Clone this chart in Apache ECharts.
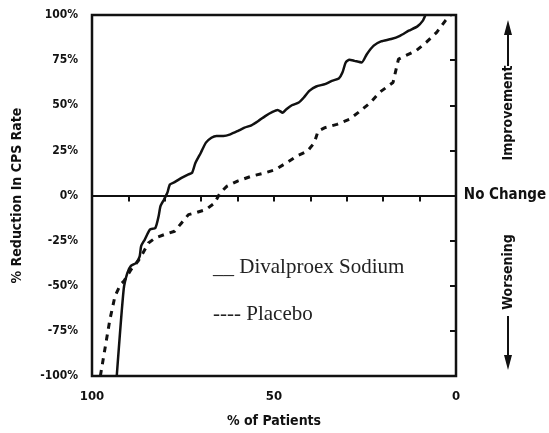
<!DOCTYPE html>
<html>
<head>
<meta charset="utf-8">
<script src="https://cdn.jsdelivr.net/npm/echarts@6/dist/echarts.min.js"></script>
<style>
  html, body { margin: 0; padding: 0; background: #fff; }
  #main { width: 549px; height: 433px; }
</style>
</head>
<body>
<div id="main"></div>
<script>
// % of patients (x) and % reduction in CPS rate (y)
const divalproexX = [93.2, 91.3, 90.3, 89.3, 87.9, 86.9, 86.5, 85.5, 84.1, 82.6, 81.7, 81.2, 80.2, 79.3, 78.6, 77.3, 75.4, 73.5, 72.5, 71.6, 70.1, 68.7, 67.2, 65.8, 63.9, 62.0, 60.0, 58.1, 56.2, 54.3, 52.4, 50.4, 49.0, 47.6, 46.6, 45.1, 43.2, 41.8, 40.3, 38.4, 36.0, 34.1, 32.2, 31.2, 30.3, 29.3, 27.9, 25.9, 24.5, 22.6, 20.6, 17.8, 15.4, 13.0, 10.6, 9.1, 8.4];
const divalproexY = [-100, -52, -43, -39, -37.4, -33.7, -28, -24.4, -18.9, -18, -11.5, -6, -2.2, 1.5, 6.1, 7.4, 9.8, 11.7, 12.6, 18, 23.7, 29.3, 32, 33, 33, 33.9, 35.7, 37.6, 38.9, 41.3, 44, 46.3, 47.4, 45.9, 47.8, 50, 51.5, 54.3, 58, 60.4, 61.7, 63.5, 64.8, 68.1, 73.7, 75.2, 74.6, 73.7, 78.3, 83, 85.4, 86.7, 88.5, 91.3, 93.7, 96.9, 100];

const placeboX = [97.7, 96.5, 95.1, 93.7, 92.2, 91.3, 89.3, 87.4, 86.0, 84.5, 82.6, 80.2, 77.3, 75.4, 73.5, 71.1, 68.7, 66.3, 64.8, 62.9, 60.0, 56.2, 52.4, 49.5, 46.6, 43.7, 40.8, 38.9, 37.9, 36.0, 32.7, 29.3, 26.9, 23.5, 21.1, 19.2, 17.3, 15.8, 13.9, 11.0, 8.2, 5.3, 2.9, 1.5];
const placeboY = [-100, -85.6, -68.9, -55.9, -49.4, -47.6, -41.1, -36.5, -31.9, -26.3, -23.5, -21.7, -19.8, -15.2, -10.6, -9.3, -7.8, -4.1, 1.5, 5.2, 8, 10.7, 12.6, 14.4, 18.1, 21.9, 24.6, 29.3, 35.7, 37.6, 39.4, 42.2, 45.9, 51.5, 57, 59.8, 62.6, 75.6, 77.4, 80.2, 84.8, 90.4, 96.9, 100];

const xTickLabels = [0, 50, 100];

const boldFont = "'DejaVu Sans Condensed', 'Liberation Sans Narrow', 'DejaVu Sans', sans-serif";

function zip(xs, ys) {
  return xs.map((x, i) => [x, ys[i]]);
}

const chart = echarts.init(document.getElementById("main"));

chart.setOption({
  animation: false,
  backgroundColor: "#fff",
  grid: {
    left: 92,
    right: 93,
    top: 15,
    bottom: 57,
    show: true,
    borderColor: "#111",
    borderWidth: 2.5,
  },
  legend: {
    orient: "vertical",
    left: 203,
    top: 252,
    icon: "none",
    itemWidth: 0,
    itemGap: 26,
    selectedMode: false,
    formatter: (name) => (name === "Divalproex Sodium" ? "__ " : "---- ") + name,
    textStyle: {
      fontFamily: "'Liberation Serif', 'Times New Roman', serif",
      fontSize: 21,
      color: "#222",
    },
  },
  xAxis: {
    type: "value",
    min: 0,
    max: 100,
    interval: 10,
    inverse: true,
    name: "% of Patients",
    nameLocation: "middle",
    nameGap: 38,
    nameTextStyle: { fontFamily: boldFont, fontWeight: "bold", fontSize: 14, color: "#111" },
    axisLine: { lineStyle: { color: "#111", width: 2 } },
    axisTick: { length: 6, lineStyle: { color: "#111", width: 2 } },
    axisLabel: {
      margin: 14,
      fontFamily: boldFont,
      fontWeight: "bold",
      fontSize: 13,
      color: "#111",
      formatter: (v) => (xTickLabels.includes(v) ? String(v) : ""),
    },
    splitLine: { show: false },
  },
  yAxis: {
    type: "value",
    min: -100,
    max: 100,
    interval: 25,
    name: "% Reduction In CPS Rate",
    nameLocation: "middle",
    nameRotate: 90,
    nameGap: 68,
    nameTextStyle: { fontFamily: boldFont, fontWeight: "bold", fontSize: 14, color: "#111" },
    axisLine: { show: true, lineStyle: { color: "#111", width: 2 } },
    axisTick: { show: true, length: 6, lineStyle: { color: "#111", width: 2 } },
    axisLabel: {
      margin: 14,
      fontFamily: boldFont,
      fontWeight: "bold",
      fontSize: 12,
      color: "#111",
      formatter: "{value}%",
    },
    splitLine: { show: false },
  },
  series: [
    {
      name: "Divalproex Sodium",
      type: "line",
      data: zip(divalproexX, divalproexY),
      showSymbol: false,
      smooth: 0.2,
      lineStyle: { color: "#111", width: 2.5 },
      itemStyle: { color: "#111" },
      markLine: {
        silent: true,
        symbol: "none",
        label: { show: false },
        lineStyle: { color: "#111", width: 1.5, type: "solid" },
        data: [{ yAxis: 0 }],
      },
    },
    {
      name: "Placebo",
      type: "line",
      data: zip(placeboX, placeboY),
      showSymbol: false,
      lineStyle: { color: "#111", width: 3, type: [6, 6] },
      itemStyle: { color: "#111" },
    },
  ],
  graphic: [
    {
      type: "text",
      x: 505,
      y: 195,
      style: {
        text: "No Change",
        fontFamily: boldFont,
        fontWeight: "bold",
        fontSize: 15,
        fill: "#111",
        align: "center",
        verticalAlign: "middle",
      },
    },
    {
      type: "text",
      x: 508,
      y: 113,
      rotation: Math.PI / 2,
      style: {
        text: "Improvement",
        fontFamily: boldFont,
        fontWeight: "bold",
        fontSize: 14,
        fill: "#111",
        align: "center",
        verticalAlign: "middle",
      },
    },
    {
      type: "text",
      x: 508,
      y: 272,
      rotation: Math.PI / 2,
      style: {
        text: "Worsening",
        fontFamily: boldFont,
        fontWeight: "bold",
        fontSize: 14,
        fill: "#111",
        align: "center",
        verticalAlign: "middle",
      },
    },
    { type: "line", shape: { x1: 508, y1: 66, x2: 508, y2: 32 }, style: { stroke: "#111", lineWidth: 2 } },
    { type: "polygon", shape: { points: [[508, 20], [504, 35], [512, 35]] }, style: { fill: "#111" } },
    { type: "line", shape: { x1: 508, y1: 316, x2: 508, y2: 357 }, style: { stroke: "#111", lineWidth: 2 } },
    { type: "polygon", shape: { points: [[508, 370], [504, 355], [512, 355]] }, style: { fill: "#111" } },
  ],
});
</script>
</body>
</html>
